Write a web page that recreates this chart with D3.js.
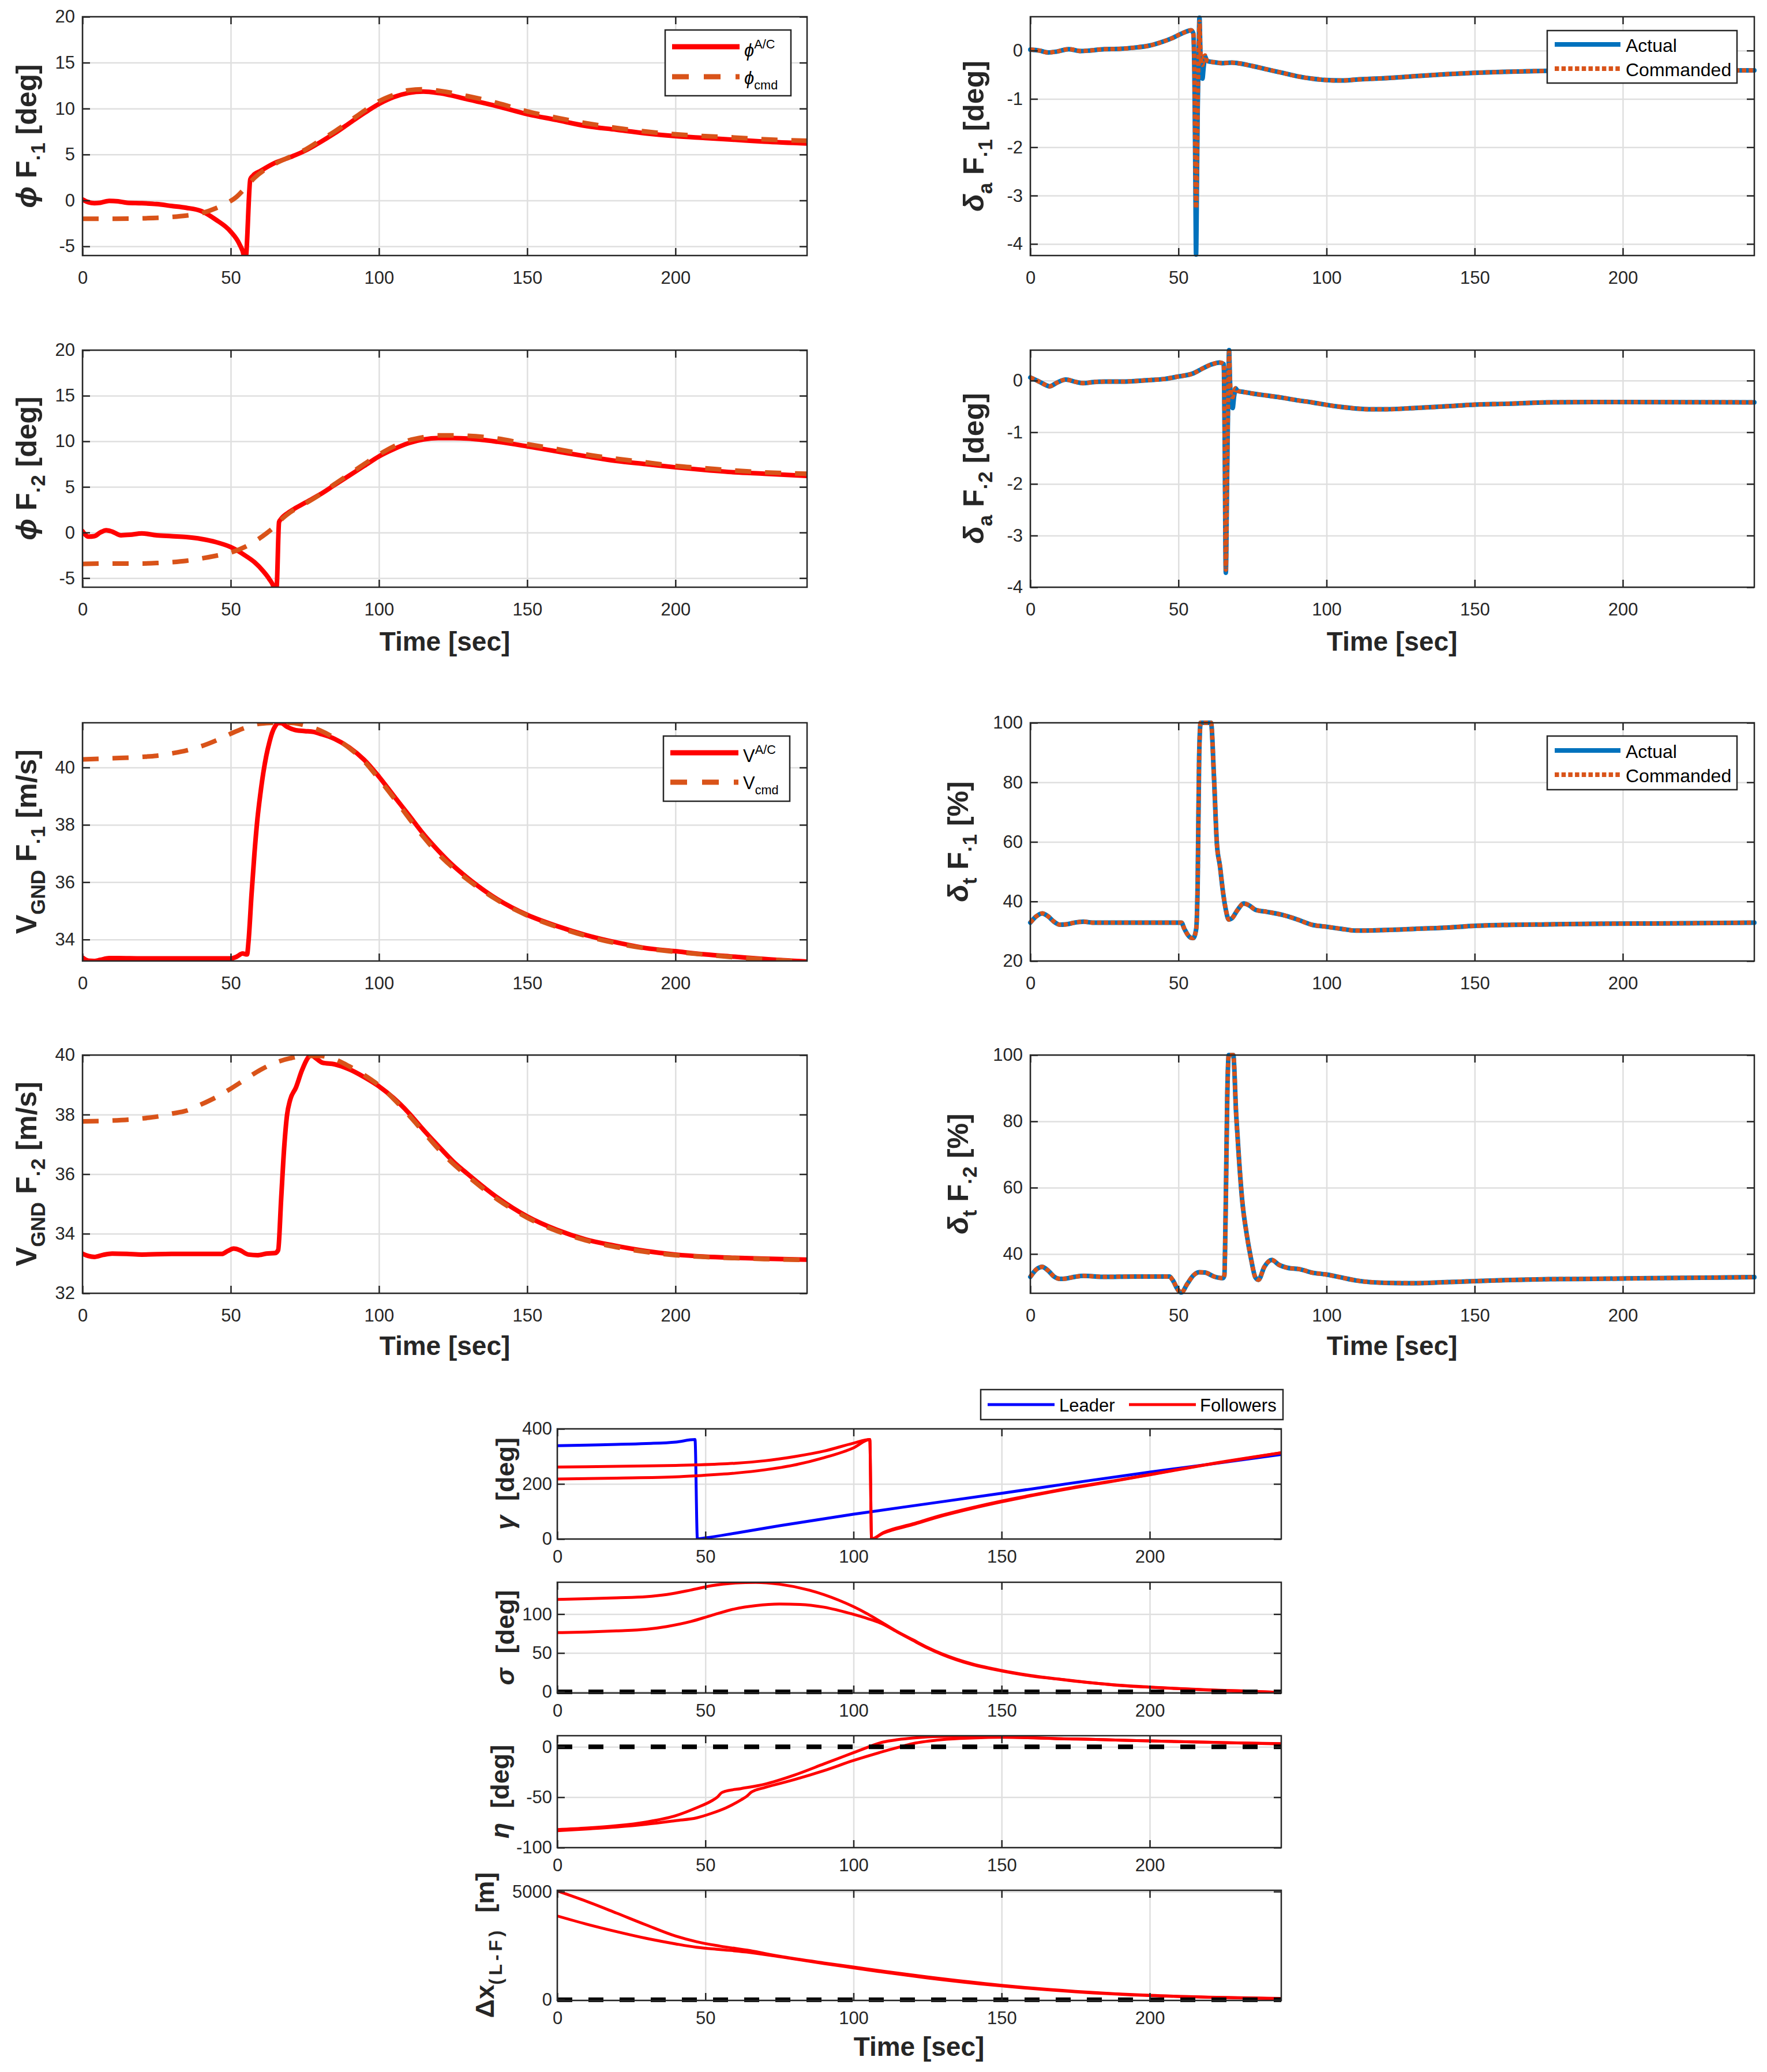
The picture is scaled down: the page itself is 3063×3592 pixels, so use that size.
<!DOCTYPE html>
<html lang="en">
<head>
<meta charset="UTF-8">
<title>Formation response</title>
<script src="https://d3js.org/d3.v7.min.js"></script>
<style>
  body { margin: 0; background: #fff; }
  svg text { font-family: "Liberation Sans", Arial, Helvetica, sans-serif; fill: #262626; white-space: pre; }
</style>
</head>
<body>
<script>
// ---- data: [time (s), value] ----
var tMax = 244.4;
var timeTicks = [0, 50, 100, 150, 200];

// bank angle [deg]
var phiF1_ac = [[0,0.1],[2,-0.2],[4,-0.3],[6,-0.25],[9,-0.05],[12,-0.1],[15,-0.25],[20,-0.3],[25,-0.4],[30,-0.6],[35,-0.8],[40,-1.15],[45,-2.1],[50,-3.4],[53,-4.8],[54.4,-6.0],[54.8,-6.8],[55.2,-6.0],[56.6,2.3],[57.5,2.7],[60,3.2],[65,4.1],[70,4.7],[75,5.4],[80,6.3],[85,7.3],[90,8.4],[95,9.5],[100,10.5],[105,11.25],[110,11.7],[115,11.85],[120,11.7],[130,11.0],[140,10.25],[150,9.4],[160,8.75],[170,8.1],[180,7.7],[190,7.3],[200,7.0],[210,6.8],[220,6.6],[230,6.4],[244.4,6.2]];
var phiF1_cmd = [[0,-2.0],[10,-2.0],[20,-1.95],[30,-1.8],[35,-1.65],[40,-1.4],[45,-0.85],[48,-0.4],[52,0.4],[55,1.4],[58,2.45],[62,3.45],[65,4.0],[70,4.75],[75,5.5],[80,6.5],[85,7.5],[90,8.6],[95,9.75],[100,10.8],[105,11.5],[110,12.0],[115,12.1],[120,11.95],[130,11.35],[140,10.6],[150,9.7],[160,9.0],[170,8.4],[180,7.9],[190,7.5],[200,7.2],[210,7.0],[220,6.85],[230,6.65],[244.4,6.5]];
var phiF2_ac = [[0,0.15],[2,-0.45],[4,-0.4],[6,0],[8,0.25],[10,0.1],[13,-0.3],[16,-0.25],[20,-0.1],[25,-0.3],[30,-0.4],[35,-0.5],[40,-0.7],[45,-1.05],[50,-1.6],[55,-2.55],[58,-3.25],[61,-4.25],[63,-5.1],[64.5,-6.0],[65,-6.6],[65.5,-6.0],[66.3,1.15],[67,1.5],[70,2.3],[75,3.25],[80,4.15],[85,5.2],[90,6.25],[95,7.3],[100,8.35],[105,9.15],[110,9.8],[115,10.2],[120,10.35],[125,10.35],[130,10.3],[140,9.95],[150,9.45],[160,8.9],[170,8.35],[180,7.85],[190,7.5],[200,7.15],[210,6.85],[220,6.6],[230,6.45],[244.4,6.2]];
var phiF2_cmd = [[0,-3.45],[10,-3.4],[20,-3.4],[25,-3.35],[30,-3.25],[35,-3.1],[40,-2.85],[45,-2.55],[50,-2.2],[55,-1.55],[58,-1.0],[62,-0.1],[65,0.7],[67,1.4],[70,2.2],[75,3.15],[80,4.15],[85,5.3],[90,6.4],[95,7.5],[100,8.55],[105,9.45],[110,10.1],[115,10.45],[120,10.65],[125,10.65],[130,10.6],[140,10.3],[150,9.7],[160,9.15],[170,8.55],[180,8.1],[190,7.7],[200,7.3],[210,7.05],[220,6.8],[230,6.6],[244.4,6.45]];

// aileron [deg]
var daF1_act = [[0,0.02],[3,0],[6,-0.04],[9,-0.02],[13,0.03],[17,-0.01],[20,0],[25,0.03],[30,0.035],[35,0.06],[40,0.1],[45,0.19],[48,0.26],[51,0.35],[53,0.4],[54.3,0.42],[55,0.36],[55.4,-0.5],[55.7,-2.5],[55.95,-4.22],[56.2,-3.0],[56.5,-1.2],[56.8,-0.2],[57.1,0.68],[57.4,0.0],[57.7,-0.45],[58.1,-0.58],[58.5,-0.35],[59,-0.12],[59.5,-0.2],[60,-0.22],[62,-0.24],[65,-0.26],[68,-0.25],[70,-0.26],[75,-0.32],[80,-0.39],[85,-0.46],[90,-0.53],[95,-0.58],[100,-0.61],[105,-0.62],[110,-0.6],[120,-0.57],[130,-0.53],[140,-0.49],[150,-0.46],[160,-0.44],[175,-0.42],[190,-0.41],[244.4,-0.41]];
var daF1_cmd = [[0,0.02],[3,0],[6,-0.04],[9,-0.02],[13,0.03],[17,-0.01],[20,0],[25,0.03],[30,0.035],[35,0.06],[40,0.1],[45,0.19],[48,0.26],[51,0.35],[53,0.4],[54.3,0.42],[55,0.36],[55.4,-0.5],[55.7,-2.2],[55.95,-3.26],[56.2,-2.6],[56.5,-1.1],[56.8,-0.2],[57.1,0.6],[57.4,0.05],[57.7,-0.25],[58.1,-0.3],[58.5,-0.15],[59,-0.1],[59.5,-0.2],[60,-0.22],[62,-0.24],[65,-0.26],[68,-0.25],[70,-0.26],[75,-0.32],[80,-0.39],[85,-0.46],[90,-0.53],[95,-0.58],[100,-0.61],[105,-0.62],[110,-0.6],[120,-0.57],[130,-0.53],[140,-0.49],[150,-0.46],[160,-0.44],[175,-0.42],[190,-0.41],[244.4,-0.41]];
var daF2_act = [[0,0.06],[3,-0.02],[5,-0.08],[6.5,-0.11],[9,-0.04],[12,0.02],[15,-0.02],[18,-0.05],[21,-0.03],[25,-0.02],[30,-0.02],[35,-0.01],[40,0.01],[45,0.03],[50,0.08],[55,0.14],[58,0.23],[61,0.31],[64,0.35],[65.3,0.32],[65.6,-1.0],[66,-3.72],[66.4,-2.0],[66.8,-0.3],[67.1,0.59],[67.4,0.0],[67.8,-0.4],[68.3,-0.53],[68.8,-0.3],[69.3,-0.15],[70,-0.2],[72,-0.22],[75,-0.25],[80,-0.29],[85,-0.33],[90,-0.38],[95,-0.42],[100,-0.47],[105,-0.51],[110,-0.54],[115,-0.555],[120,-0.555],[130,-0.53],[140,-0.5],[150,-0.465],[160,-0.45],[175,-0.42],[190,-0.415],[244.4,-0.42]];
var daF2_cmd = [[0,0.06],[3,-0.02],[5,-0.08],[6.5,-0.11],[9,-0.04],[12,0.02],[15,-0.02],[18,-0.05],[21,-0.03],[25,-0.02],[30,-0.02],[35,-0.01],[40,0.01],[45,0.03],[50,0.08],[55,0.14],[58,0.23],[61,0.31],[64,0.35],[65.3,0.32],[65.6,-1.0],[66,-3.66],[66.4,-2.0],[66.8,-0.3],[67.1,0.55],[67.4,0.0],[67.8,-0.3],[68.3,-0.32],[68.8,-0.2],[69.3,-0.15],[70,-0.2],[72,-0.22],[75,-0.25],[80,-0.29],[85,-0.33],[90,-0.38],[95,-0.42],[100,-0.47],[105,-0.51],[110,-0.54],[115,-0.555],[120,-0.555],[130,-0.53],[140,-0.5],[150,-0.465],[160,-0.45],[175,-0.42],[190,-0.415],[244.4,-0.42]];

// ground speed [m/s]
var vF1_ac = [[0,33.37],[2,33.26],[4,33.25],[6,33.29],[9,33.35],[12,33.35],[20,33.34],[30,33.34],[40,33.34],[50,33.34],[52,33.4],[54,33.51],[55.5,33.48],[56,33.93],[57,35.55],[58,37.0],[59,38.2],[60,39.08],[61,39.82],[62,40.41],[63,40.86],[64,41.22],[65,41.44],[66,41.55],[67,41.55],[69,41.42],[72,41.3],[75,41.27],[78,41.24],[80,41.18],[85,41.0],[90,40.7],[95,40.27],[100,39.68],[105,39.01],[110,38.35],[115,37.68],[120,37.1],[125,36.58],[130,36.14],[140,35.4],[150,34.86],[160,34.47],[170,34.15],[180,33.9],[190,33.7],[200,33.59],[210,33.48],[220,33.4],[230,33.32],[244.4,33.23]];
var vF1_cmd = [[0,40.28],[10,40.32],[20,40.37],[25,40.41],[30,40.49],[35,40.59],[40,40.74],[45,40.94],[50,41.18],[55,41.39],[60,41.53],[65,41.56],[70,41.56],[75,41.47],[80,41.3],[85,41.03],[90,40.68],[95,40.22],[100,39.6],[105,38.94],[110,38.25],[115,37.58],[120,36.99],[125,36.5],[130,36.08],[140,35.37],[150,34.84],[160,34.44],[170,34.12],[180,33.87],[190,33.69],[200,33.57],[210,33.47],[220,33.38],[230,33.31],[244.4,33.22]];
var vF2_ac = [[0,33.33],[2,33.25],[4,33.22],[7,33.29],[10,33.33],[15,33.32],[20,33.3],[30,33.32],[40,33.32],[47,33.32],[49,33.42],[51,33.5],[53,33.45],[56,33.3],[59,33.28],[62,33.33],[65,33.35],[66,33.45],[67,35.15],[68,36.85],[69,37.99],[70,38.48],[72,38.91],[74,39.48],[76,39.9],[77,40.0],[79,39.87],[81,39.74],[85,39.69],[90,39.52],[95,39.26],[100,38.95],[105,38.55],[110,38.06],[115,37.49],[120,36.95],[125,36.43],[130,36.0],[140,35.21],[150,34.58],[160,34.13],[170,33.8],[180,33.59],[190,33.42],[200,33.3],[210,33.23],[220,33.19],[230,33.16],[244.4,33.13]];
var vF2_cmd = [[0,37.77],[10,37.8],[20,37.87],[25,37.93],[30,38.03],[35,38.13],[40,38.34],[45,38.58],[50,38.87],[55,39.19],[60,39.5],[65,39.74],[70,39.89],[75,39.97],[80,39.97],[85,39.86],[90,39.62],[95,39.33],[100,38.98],[105,38.52],[110,37.99],[115,37.42],[120,36.85],[125,36.35],[130,35.93],[140,35.15],[150,34.54],[160,34.09],[170,33.77],[180,33.55],[190,33.39],[200,33.28],[210,33.22],[220,33.18],[230,33.15],[244.4,33.12]];

// throttle [%]
var dtF1_act = [[0,32.9],[2,35.0],[4,36.0],[6,35.0],[8,33.2],[10,32.2],[12,32.3],[15,32.9],[18,33.2],[21,32.9],[30,32.9],[40,32.9],[51,32.9],[52,30.8],[54,27.9],[55,27.7],[56,30.8],[56.5,46.4],[57,88.9],[57.5,100],[61,100],[62,81.8],[63,59.1],[64,52],[65,43.5],[66,37.2],[67,33.9],[68,34.3],[70,37.2],[72,39.3],[74,38.6],[76,37.2],[80,36.5],[85,35.5],[90,34.0],[95,32.2],[100,31.5],[105,30.8],[110,30.2],[120,30.4],[130,30.8],[140,31.2],[150,31.8],[160,32.1],[175,32.3],[190,32.5],[210,32.6],[244.4,32.9]];
var dtF1_cmd = [[0,32.9],[2,35.0],[4,36.0],[6,35.0],[8,33.2],[10,32.2],[12,32.3],[15,32.9],[18,33.2],[21,32.9],[30,32.9],[40,32.9],[51,32.9],[52,30.8],[54,27.9],[55,27.7],[56,30.8],[56.5,46.4],[57,88.9],[57.5,100],[61,100],[62,81.8],[63,59.1],[64,52],[65,43.5],[66,37.2],[67,33.9],[68,34.3],[70,37.2],[72,39.3],[74,38.6],[76,37.2],[80,36.5],[85,35.5],[90,34.0],[95,32.2],[100,31.5],[105,30.8],[110,30.2],[120,30.4],[130,30.8],[140,31.2],[150,31.8],[160,32.1],[175,32.3],[190,32.5],[210,32.6],[244.4,32.9]];
var dtF2_act = [[0,33.1],[2,35.3],[4,36.1],[6,35.0],[8,33.2],[10,32.5],[12,32.6],[15,33.1],[18,33.4],[25,33.1],[35,33.2],[47,33.2],[48,32.2],[50,29.0],[51,28.4],[53,31.0],[55,33.5],[57,34.5],[59,34.4],[62,33.2],[65,32.7],[65.5,33.5],[66,56.4],[66.5,88.3],[67,100],[68.5,100],[69.5,81.9],[70.5,67.9],[71.5,56.4],[73,46.2],[74.5,38.6],[76,32.9],[77,32.2],[79,36.1],[81.5,38.2],[84,36.7],[87,35.8],[91,35.4],[95,34.4],[100,33.8],[105,32.9],[110,32.0],[120,31.3],[130,31.2],[140,31.5],[150,31.8],[160,32.1],[175,32.4],[190,32.5],[210,32.7],[244.4,33.0]];
var dtF2_cmd = [[0,33.1],[2,35.3],[4,36.1],[6,35.0],[8,33.2],[10,32.5],[12,32.6],[15,33.1],[18,33.4],[25,33.1],[35,33.2],[47,33.2],[48,32.2],[50,29.0],[51,28.4],[53,31.0],[55,33.5],[57,34.5],[59,34.4],[62,33.2],[65,32.7],[65.5,33.5],[66,56.4],[66.5,88.3],[67,100],[68.5,100],[69.5,81.9],[70.5,67.9],[71.5,56.4],[73,46.2],[74.5,38.6],[76,32.9],[77,32.2],[79,36.1],[81.5,38.2],[84,36.7],[87,35.8],[91,35.4],[95,34.4],[100,33.8],[105,32.9],[110,32.0],[120,31.3],[130,31.2],[140,31.5],[150,31.8],[160,32.1],[175,32.4],[190,32.5],[210,32.7],[244.4,33.0]];

// formation geometry
var gammaLeader = [[0,338.6],[10,341],[20,343.4],[30,346.6],[40,352],[46.5,361],[47.3,0.5],[50,4],[60,21],[75,48],[100,90],[125,128],[150,166],[175,205],[200,243],[220,271],[244.4,307]];
var gammaF1 = [[0,261],[20,264],[40,267],[47,269],[60,275],[70,284],[80,299],[90,319],[100,348],[105.5,361],[106.1,0.5],[110,21],[120,52],[130,84],[140,111],[150,135],[160,157],[175,187],[190,214],[200,233],[220,271],[244.4,313]];
var gammaF2 = [[0,218],[20,221],[40,225.5],[47,229.5],[60,239],[70,251],[80,268.5],[90,295],[100,331],[105.5,361],[106.1,0.5],[110,23],[120,55],[130,87],[140,114],[150,138],[160,159],[175,189],[190,215],[200,234],[220,272],[244.4,313]];
var sigmaF1 = [[0,119],[10,119.8],[20,121],[30,122.4],[37,125.2],[45,130.9],[52,136.5],[60,140],[67,140.8],[75,138.5],[85,130.9],[95,118],[100,109.6],[105,99.7],[110,88.4],[115,77],[120,67.1],[125,57.2],[130,48.7],[140,36],[150,27.5],[160,21],[170,16.1],[180,11.9],[190,8.5],[200,6.2],[210,4.2],[220,2.5],[230,1.4],[244.4,-0.8]];
var sigmaF2 = [[0,76.2],[10,77],[20,78.5],[30,80.5],[37,84.1],[45,90.4],[52,98.3],[60,106.8],[67,111],[75,113],[82,112.5],[90,109],[100,99.7],[105,94],[110,87],[115,76.5],[120,66.3],[125,56.4],[130,47.9],[140,35.1],[150,26.9],[160,20.4],[170,15.9],[180,11.6],[190,8.2],[200,5.9],[210,4],[220,2.3],[230,1.1],[244.4,-0.8]];
var etaF1 = [[0,-82.1],[10,-80.6],[20,-78.3],[30,-74.6],[40,-68.3],[47,-60.5],[52,-53.8],[54,-50],[55.5,-45.5],[56.5,-44.3],[62,-41.5],[70,-37.1],[80,-28.1],[90,-17],[100,-5.8],[105,-0.2],[110,4.7],[115,7.1],[120,8.7],[130,10.3],[140,10.5],[150,9.8],[160,9.2],[170,8.0],[180,7.4],[190,6.5],[200,5.8],[210,5.1],[220,4.5],[230,3.8],[244.4,3.1]];
var etaF2 = [[0,-83.3],[10,-81.5],[20,-79.5],[30,-76.8],[40,-73.2],[47,-70.5],[52,-66.1],[57,-60.5],[62,-52.7],[64,-49],[65.5,-45],[66.5,-43.5],[70,-40.4],[80,-32.6],[90,-23.7],[100,-13.6],[110,-4.7],[115,-0.7],[120,3.1],[130,7.1],[140,8.7],[150,9.4],[160,8.9],[170,8.0],[180,7.4],[190,6.5],[200,5.8],[244.4,2.9]];
var dxF1 = [[0,5030],[10,4545],[20,4008],[30,3461],[40,2944],[47,2686],[55,2479],[65,2273],[75,2014],[90,1705],[100,1519],[110,1322],[125,1054],[150,671],[175,393],[200,207],[220,124],[244.4,62]];
var dxF2 = [[0,3874],[10,3492],[20,3151],[30,2841],[40,2583],[47,2428],[55,2324],[65,2190],[75,1994],[90,1674],[100,1477],[110,1281],[125,1012],[150,640],[175,372],[200,196],[220,114],[244.4,52]];
var refZero = [[0,0],[244.4,0]];

// ---- drawing ----
var RED = "#ff0000", ORANGE = "#d95319", BLUE = "#0072bd", PURE_BLUE = "#0000ff", INK = "#262626";
var DOTS = "7.5,4.2";
var svg = d3.select("body").append("svg").attr("width", 3063).attr("height", 3592);
svg.append("rect").attr("width", 3063).attr("height", 3592).attr("fill", "#fff");
var clipCount = 0;

function panel(o) {
    var id = "clip" + (clipCount++);
    var g = svg.append("g").attr("transform", "translate(" + o.x + "," + o.y + ")");
    var x = d3.scaleLinear().domain([0, tMax]).range([0, o.w]);
    var y = d3.scaleLinear().domain(o.ydom).range([o.h, 0]);

    // grid lines
    g.append("g").attr("class", "grid").attr("transform", "translate(0," + o.h + ")")
        .call(d3.axisBottom(x).tickValues(timeTicks).tickSize(-o.h).tickFormat(""));
    g.append("g").attr("class", "grid")
        .call(d3.axisLeft(y).tickValues(o.yticks).tickSize(-o.w).tickFormat(""));
    g.selectAll(".grid .domain").remove();
    g.selectAll(".grid line").attr("stroke", "#dfdfdf").attr("stroke-width", 2.5);

    g.append("clipPath").attr("id", id).append("rect")
        .attr("width", o.w).attr("height", o.h);

    var line = d3.line().x(function (d) { return x(d[0]); }).y(function (d) { return y(d[1]); })
        .curve(d3.curveMonotoneX);
    o.series.forEach(function (s) {
        g.append("path").datum(s.data)
            .attr("d", line)
            .attr("clip-path", s.noclip ? null : "url(#" + id + ")")
            .attr("fill", "none")
            .attr("stroke", s.color)
            .attr("stroke-width", s.width)
            .attr("stroke-dasharray", s.dash || null)
            .attr("stroke-linecap", s.dash ? "butt" : "round")
            .attr("stroke-linejoin", "round");
    });

    // ticks on all four sides, pointing inward
    var axes = [
        [d3.axisBottom(x).tickValues(timeTicks).tickSize(-13).tickPadding(o.xpad).tickFormat(function (d) { return d; }), 0, o.h],
        [d3.axisTop(x).tickValues(timeTicks).tickSize(-13).tickFormat(""), 0, 0],
        [d3.axisLeft(y).tickValues(o.yticks).tickSize(-13).tickPadding(o.ypad).tickFormat(function (d) { return String(d); }), 0, 0],
        [d3.axisRight(y).tickValues(o.yticks).tickSize(-13).tickFormat(""), o.w, 0]
    ];
    axes.forEach(function (a) {
        var ag = g.append("g").attr("transform", "translate(" + a[1] + "," + a[2] + ")").call(a[0]);
        ag.attr("font-size", 31).attr("font-family", null);
        ag.select(".domain").remove();
        ag.selectAll("line").attr("stroke", INK).attr("stroke-width", 2.5);
    });

    g.append("rect").attr("width", o.w).attr("height", o.h)
        .attr("fill", "none").attr("stroke", INK).attr("stroke-width", 2.5);
    return g;
}

function rich(sel, parts, fs) {
    var cur = 0;
    parts.forEach(function (p) {
        var target = p.sub ? 0.3 * fs : (p.sup ? -0.45 * fs : 0);
        var t = sel.append("tspan").text(p.s).attr("dy", target - cur);
        cur = target;
        if (p.sub || p.sup) t.attr("font-size", fs * (p.k || 0.7));
        if (p.it) t.attr("font-style", "italic");
        if (p.ls) t.attr("letter-spacing", p.ls);
    });
}

function ylabel(bx, cy, parts, fs) {
    var t = svg.append("text")
        .attr("transform", "translate(" + bx + "," + cy + ") rotate(-90)")
        .attr("text-anchor", "middle").attr("font-size", fs).attr("font-weight", "bold");
    rich(t, parts, fs);
}

function xlabel(cx, by, fs) {
    svg.append("text").attr("x", cx).attr("y", by).attr("text-anchor", "middle")
        .attr("font-size", fs).attr("font-weight", "bold").text("Time [sec]");
}

function legend(box, items) {
    svg.append("rect").attr("x", box[0]).attr("y", box[1]).attr("width", box[2]).attr("height", box[3])
        .attr("fill", "#fff").attr("stroke", INK).attr("stroke-width", 2.5);
    items.forEach(function (it) {
        svg.append("line").attr("x1", it.x1).attr("x2", it.x2).attr("y1", it.y).attr("y2", it.y)
            .attr("stroke", it.color).attr("stroke-width", it.width)
            .attr("stroke-dasharray", it.dash || null);
        var t = svg.append("text").attr("x", it.tx).attr("y", it.ty).attr("font-size", it.fs)
            .style("fill", "#000");
        rich(t, it.parts, it.fs);
    });
}

var LX = 143, LW = 1256, RX = 1786, RW = 1255;
var rows = [[29, 414], [607, 411], [1253, 413], [1829, 413]];
function solid(d, c) { return { data: d, color: c, width: 8 }; }
function dashed(d) { return { data: d, color: ORANGE, width: 8, dash: "28,24" }; }
function dotted(d) { return { data: d, color: ORANGE, width: 7.5, dash: DOTS, noclip: true }; }

// left column
panel({ x: LX, y: rows[0][0], w: LW, h: rows[0][1], ydom: [-6, 20], yticks: [-5, 0, 5, 10, 15, 20], xpad: 27, ypad: 13,
    series: [solid(phiF1_ac, RED), dashed(phiF1_cmd)] });
panel({ x: LX, y: rows[1][0], w: LW, h: rows[1][1], ydom: [-6, 20], yticks: [-5, 0, 5, 10, 15, 20], xpad: 27, ypad: 13,
    series: [solid(phiF2_ac, RED), dashed(phiF2_cmd)] });
panel({ x: LX, y: rows[2][0], w: LW, h: rows[2][1], ydom: [33.25, 41.56], yticks: [34, 36, 38, 40], xpad: 27, ypad: 13,
    series: [solid(vF1_ac, RED), dashed(vF1_cmd)] });
panel({ x: LX, y: rows[3][0], w: LW, h: rows[3][1], ydom: [32, 40], yticks: [32, 34, 36, 38, 40], xpad: 27, ypad: 13,
    series: [solid(vF2_ac, RED), dashed(vF2_cmd)] });

// right column
panel({ x: RX, y: rows[0][0], w: RW, h: rows[0][1], ydom: [-4.24, 0.7], yticks: [-4, -3, -2, -1, 0], xpad: 27, ypad: 13,
    series: [{ data: daF1_act, color: BLUE, width: 8, noclip: true }, dotted(daF1_cmd)] });
panel({ x: RX, y: rows[1][0], w: RW, h: rows[1][1], ydom: [-4, 0.59], yticks: [-4, -3, -2, -1, 0], xpad: 27, ypad: 13,
    series: [{ data: daF2_act, color: BLUE, width: 8, noclip: true }, dotted(daF2_cmd)] });
panel({ x: RX, y: rows[2][0], w: RW, h: rows[2][1], ydom: [20, 100], yticks: [20, 40, 60, 80, 100], xpad: 27, ypad: 13,
    series: [{ data: dtF1_act, color: BLUE, width: 8, noclip: true }, dotted(dtF1_cmd)] });
panel({ x: RX, y: rows[3][0], w: RW, h: rows[3][1], ydom: [28.15, 100], yticks: [40, 60, 80, 100], xpad: 27, ypad: 13,
    series: [{ data: dtF2_act, color: BLUE, width: 8, noclip: true }, dotted(dtF2_cmd)] });

// bottom stack
var BX = 966, BW = 1255;
function thin(d, c) { return { data: d, color: c, width: 5 }; }
function ref() { return { data: refZero, color: "#000", width: 8, dash: "26,28", noclip: true }; }
panel({ x: BX, y: 2477, w: BW, h: 191, ydom: [0, 400], yticks: [0, 200, 400], xpad: 19, ypad: 9,
    series: [thin(gammaLeader, PURE_BLUE), thin(gammaF1, RED), thin(gammaF2, RED)] });
panel({ x: BX, y: 2743, w: BW, h: 192, ydom: [-1.5, 141], yticks: [0, 50, 100], xpad: 19, ypad: 9,
    series: [thin(sigmaF1, RED), thin(sigmaF2, RED), ref()] });
panel({ x: BX, y: 3009, w: BW, h: 194, ydom: [-100, 11], yticks: [-100, -50, 0], xpad: 19, ypad: 9,
    series: [thin(etaF1, RED), thin(etaF2, RED), ref()] });
panel({ x: BX, y: 3277, w: BW, h: 191, ydom: [-30, 5060], yticks: [0, 5000], xpad: 19, ypad: 9,
    series: [thin(dxF1, RED), thin(dxF2, RED), ref()] });

// axis labels
var f1 = { s: "\u00b71", sub: true }, f2 = { s: "\u00b72", sub: true };
ylabel(63, 236, [{ s: "\u03d5", it: true }, { s: " F" }, f1, { s: " [deg]" }], 50);
ylabel(63, 812, [{ s: "\u03d5", it: true }, { s: " F" }, f2, { s: " [deg]" }], 50);
ylabel(63, 1459, [{ s: "V" }, { s: "GND", sub: true }, { s: " F" }, f1, { s: " [m/s]" }], 50);
ylabel(63, 2035, [{ s: "V" }, { s: "GND", sub: true }, { s: " F" }, f2, { s: " [m/s]" }], 50);
ylabel(1705, 236, [{ s: "\u03b4", it: true }, { s: "a", sub: true }, { s: " F" }, f1, { s: " [deg]" }], 50);
ylabel(1705, 812, [{ s: "\u03b4", it: true }, { s: "a", sub: true }, { s: " F" }, f2, { s: " [deg]" }], 50);
ylabel(1678, 1459, [{ s: "\u03b4", it: true }, { s: "t", sub: true }, { s: " F" }, f1, { s: " [%]" }], 50);
ylabel(1678, 2035, [{ s: "\u03b4", it: true }, { s: "t", sub: true }, { s: " F" }, f2, { s: " [%]" }], 50);
ylabel(891, 2572, [{ s: "\u03b3", it: true }, { s: "  [deg]" }], 45);
ylabel(891, 2839, [{ s: "\u03c3", it: true }, { s: "  [deg]" }], 45);
ylabel(882, 3106, [{ s: "\u03b7", it: true }, { s: "  [deg]" }], 45);
ylabel(856, 3372, [{ s: "\u0394x" }, { s: "(L-F)", sub: true, ls: 6 }, { s: "  [m]" }], 45);

xlabel(771, 1128, 46);
xlabel(2413, 1128, 46);
xlabel(771, 2349, 46);
xlabel(2413, 2349, 46);
xlabel(1593, 3564, 46);

// legends
legend([1153, 52, 218, 114], [
    { x1: 1165, x2: 1282, y: 81, color: RED, width: 9, tx: 1290, ty: 98, fs: 31, parts: [{ s: "\u03d5", it: true }, { s: "A/C", sup: true }] },
    { x1: 1165, x2: 1282, y: 133, color: ORANGE, width: 9, dash: "29,26", tx: 1290, ty: 146, fs: 31, parts: [{ s: "\u03d5", it: true }, { s: "cmd", sub: true }] }
]);
legend([1150, 1276, 219, 113], [
    { x1: 1162, x2: 1280, y: 1305, color: RED, width: 9, tx: 1288, ty: 1321, fs: 31, parts: [{ s: "V" }, { s: "A/C", sup: true }] },
    { x1: 1162, x2: 1280, y: 1356, color: ORANGE, width: 9, dash: "29,26", tx: 1288, ty: 1368, fs: 31, parts: [{ s: "V" }, { s: "cmd", sub: true }] }
]);
legend([2682, 53, 329, 91], [
    { x1: 2695, x2: 2809, y: 77, color: BLUE, width: 8, tx: 2818, ty: 90, fs: 32, parts: [{ s: "Actual" }] },
    { x1: 2695, x2: 2809, y: 119, color: ORANGE, width: 8, dash: DOTS, tx: 2818, ty: 132, fs: 32, parts: [{ s: "Commanded" }] }
]);
legend([2682, 1276, 329, 93], [
    { x1: 2695, x2: 2809, y: 1301, color: BLUE, width: 8, tx: 2818, ty: 1314, fs: 32, parts: [{ s: "Actual" }] },
    { x1: 2695, x2: 2809, y: 1343, color: ORANGE, width: 8, dash: DOTS, tx: 2818, ty: 1356, fs: 32, parts: [{ s: "Commanded" }] }
]);
legend([1700, 2409, 524, 52], [
    { x1: 1712, x2: 1828, y: 2435, color: PURE_BLUE, width: 5, tx: 1836, ty: 2447, fs: 31, parts: [{ s: "Leader" }] },
    { x1: 1957, x2: 2073, y: 2435, color: RED, width: 5, tx: 2080, ty: 2447, fs: 31, parts: [{ s: "Followers" }] }
]);
</script>
</body>
</html>
